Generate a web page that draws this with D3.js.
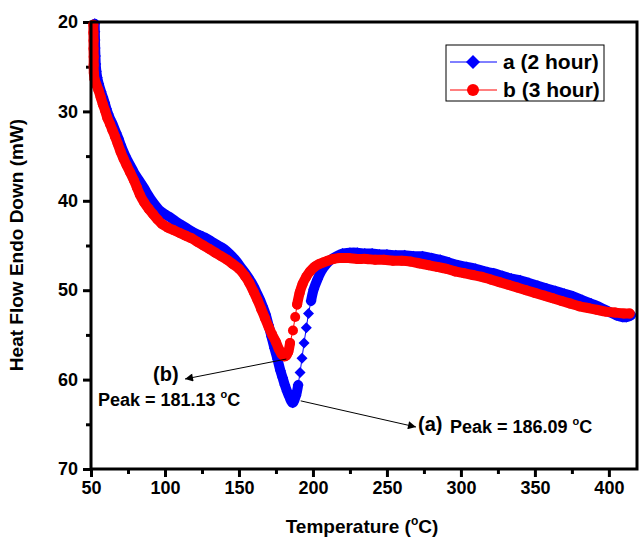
<!DOCTYPE html>
<html>
<head>
<meta charset="utf-8">
<script src="https://cdn.jsdelivr.net/npm/d3@7"></script>
<style>
  body { margin: 0; background: #fff; }
  svg text { font-family: "Liberation Sans", Arial, sans-serif; font-weight: bold; fill: #000; }
</style>
</head>
<body>
<div id="chart"></div>
<script>
// series a (2 hour) - blue diamonds
var aTemp = [52.5, 52.6, 52.7, 52.8, 53.0, 53.2, 53.6, 54.2, 55.2, 56.8, 58, 59.2, 60.4, 61.6, 62.8, 64, 67, 68.5, 70, 73,
  76, 78, 80, 84, 86, 88, 92, 96, 100, 104, 108, 112, 116, 120, 124, 128, 132, 136, 140, 144,
  148, 152, 156, 160, 162, 164, 166, 168, 170, 172, 174, 176, 178, 179.5, 181, 182.5, 184, 185.3, 186.3, 188.5,
  190, 191.3, 192.6, 194, 195.5, 197, 198.7, 200.5, 203, 205.5, 208.5, 212, 216, 220, 225, 230, 235, 240, 245, 250,
  256, 262, 268, 274, 280, 286, 292, 298, 304, 310, 316, 322, 328, 334, 340, 346, 352, 358, 364, 370,
  376, 382, 388, 394, 400, 405, 409, 412, 415];
var aHeat = [20.2, 21.1, 22.0, 22.9, 23.8, 24.7, 25.5, 26.2, 26.9, 27.8, 28.4, 29.0, 29.7, 30.3, 30.8, 31.2, 32.4, 33.0, 33.7, 34.9,
  35.9, 36.5, 37.1, 38.1, 38.6, 39.2, 40.2, 41.0, 41.5, 41.9, 42.4, 42.8, 43.2, 43.6, 43.9, 44.2, 44.6, 45.0, 45.4, 46.0,
  46.7, 47.6, 48.5, 49.6, 50.3, 51.0, 51.8, 52.7, 53.9, 55.2, 56.5, 57.7, 59.0, 59.8, 60.6, 61.3, 61.9, 62.4, 62.6, 61.8,
  60.6, 59.2, 57.6, 55.9, 54.2, 52.6, 51.2, 49.9, 48.8, 47.9, 47.2, 46.6, 46.2, 45.9, 45.8, 45.8, 45.9, 45.9, 46.0, 46.0,
  46.1, 46.1, 46.2, 46.2, 46.4, 46.6, 46.9, 47.2, 47.4, 47.6, 47.9, 48.1, 48.4, 48.7, 48.9, 49.2, 49.5, 49.8, 50.1, 50.4,
  50.7, 51.1, 51.5, 51.9, 52.4, 52.8, 53.0, 53.0, 52.8];

// series b (3 hour) - red circles
var bTemp = [51.6, 51.6, 51.7, 51.7, 51.8, 51.8, 51.9, 52.4, 53.6, 55, 56.5, 58, 59.5, 61, 62.8, 64.5, 66.2, 68, 70, 72,
  74, 76.4, 79, 81, 83, 86, 89, 92, 95, 98, 102, 106, 110, 114, 118, 122, 126, 130, 134, 138, 142,
  146, 150, 154, 157, 160, 162.5, 165, 167.5, 170, 172.5, 175, 177, 179, 180.5, 182, 183.3, 184.5, 186.5, 188, 189.3,
  191, 193, 195.5, 198, 201, 204, 207, 210, 214, 218, 224, 230, 236, 242, 248, 254, 260,
  266, 272, 278, 284, 290, 296, 302, 308, 314, 320, 326, 332, 338, 344, 350, 356, 362, 368, 374, 380,
  386, 392, 398, 404, 410, 414];
var bHeat = [20.3, 21.2, 22.1, 23.0, 23.9, 24.8, 25.7, 26.4, 27.0, 27.6, 28.4, 29.2, 29.9, 30.7, 31.4, 32.1, 32.8, 33.6, 34.5, 35.3,
  36.0, 36.8, 37.7, 38.5, 39.3, 40.2, 40.9, 41.5, 42.1, 42.6, 43.0, 43.3, 43.6, 43.9, 44.2, 44.6, 45.0, 45.4, 45.8, 46.2, 46.6,
  47.1, 47.6, 48.4, 49.2, 50.2, 51.1, 52.1, 53.1, 54.1, 55.0, 55.8, 56.6, 57.2, 57.4, 57.3, 56.9, 55.9, 54.5, 53.0, 51.6,
  50.3, 49.3, 48.5, 47.9, 47.4, 47.1, 46.9, 46.7, 46.5, 46.4, 46.4, 46.5, 46.5, 46.6, 46.6, 46.7, 46.7,
  46.8, 47.0, 47.2, 47.4, 47.6, 47.9, 48.1, 48.3, 48.5, 48.8, 49.1, 49.4, 49.7, 50.0, 50.3, 50.6, 50.9, 51.2, 51.5, 51.8,
  52.0, 52.2, 52.4, 52.5, 52.6, 52.6];

var xTicks = [50, 100, 150, 200, 250, 300, 350, 400];
var xMinor = [75, 125, 175, 225, 275, 325, 375];
var yTicks = [20, 30, 40, 50, 60, 70];
var yMinor = [25, 35, 45, 55, 65];
var seriesNames = ["a (2 hour)", "b (3 hour)"];
var seriesColors = ["#0000ff", "#ff0000"];

var width = 639, height = 538;
var margin = {left: 91, right: 637, top: 22, bottom: 469};

var svg = d3.select("#chart").append("svg")
    .attr("width", width)
    .attr("height", height);

var x = d3.scaleLinear().domain([50, 419]).range([margin.left, margin.right]);
var y = d3.scaleLinear().domain([20, 70]).range([margin.top, margin.bottom]);

var diamond = function(s){
    return "M0," + (-s) + "L" + s + ",0L0," + s + "L" + (-s) + ",0Z";
};

// axes
svg.append("g").attr("transform", "translate(0," + margin.bottom + ")")
    .call(d3.axisBottom(x).tickValues(xTicks).tickSize(8).tickPadding(4));
svg.append("g").attr("transform", "translate(0," + margin.bottom + ")")
    .call(d3.axisBottom(x).tickValues(xMinor).tickSize(5).tickFormat(""));
svg.append("g").attr("transform", "translate(" + margin.left + ",0)")
    .call(d3.axisLeft(y).tickValues(yTicks).tickSize(8).tickPadding(5));
svg.append("g").attr("transform", "translate(" + margin.left + ",0)")
    .call(d3.axisLeft(y).tickValues(yMinor).tickSize(5).tickFormat(""));

svg.selectAll(".domain").remove();
svg.selectAll(".tick line").attr("stroke", "#000").attr("stroke-width", 3);
svg.selectAll(".tick text").style("font-size", "18px").attr("fill", "#000");

// series
var lineGen = d3.line().x(function(d){ return x(d[0]); }).y(function(d){ return y(d[1]); });
var bandGen = d3.line().x(function(d){ return x(d[0]); }).y(function(d){ return y(d[1]); })
    .curve(d3.curveCatmullRom);
var aData = d3.zip(aTemp, aHeat), bData = d3.zip(bTemp, bHeat);

// markers sit so close that they merge into a band; join only neighbours that touch
var touchingRuns = function(data, gap){
    var runs = [], run = [data[0]];
    for (var i = 1; i < data.length; i++) {
        var dx = x(data[i][0]) - x(data[i - 1][0]), dy = y(data[i][1]) - y(data[i - 1][1]);
        if (Math.sqrt(dx * dx + dy * dy) < gap) {
            run.push(data[i]);
        } else {
            if (run.length > 1) runs.push(run);
            run = [data[i]];
        }
    }
    if (run.length > 1) runs.push(run);
    return runs;
};

var drawSeries = function(data, color, isDiamond){
    var g = svg.append("g");
    g.append("path").datum(data).attr("d", lineGen)
        .attr("fill", "none").attr("stroke", color).attr("stroke-width", 1);
    g.selectAll("path.band").data(touchingRuns(data, 12)).enter().append("path")
        .attr("class", "band")
        .attr("d", bandGen)
        .attr("fill", "none").attr("stroke", color)
        .attr("stroke-width", 10)
        .attr("stroke-linecap", "round").attr("stroke-linejoin", "round");
    if (isDiamond) {
        g.selectAll("path.mk").data(data).enter().append("path")
            .attr("class", "mk")
            .attr("transform", function(d){ return "translate(" + x(d[0]) + "," + y(d[1]) + ")"; })
            .attr("d", diamond(5.5))
            .attr("fill", color);
    } else {
        g.selectAll("circle.mk").data(data).enter().append("circle")
            .attr("class", "mk")
            .attr("cx", function(d){ return x(d[0]); })
            .attr("cy", function(d){ return y(d[1]); })
            .attr("r", 5)
            .attr("fill", color);
    }
};

drawSeries(aData, seriesColors[0], true);
drawSeries(bData, seriesColors[1], false);

// frame
svg.append("rect")
    .attr("x", margin.left).attr("y", margin.top)
    .attr("width", margin.right - margin.left).attr("height", margin.bottom - margin.top)
    .attr("fill", "none").attr("stroke", "#000").attr("stroke-width", 3);

// axis titles
var xTitle = svg.append("text")
    .attr("x", (margin.left + margin.right) / 2 - 2).attr("y", 533)
    .attr("text-anchor", "middle")
    .style("font-size", "19px");
xTitle.append("tspan").text("Temperature (");
xTitle.append("tspan").text("o").style("font-size", "12px").attr("dy", -8);
xTitle.append("tspan").text("C)").attr("dy", 8);

svg.append("text")
    .attr("transform", "translate(23," + 245 + ") rotate(-90)")
    .attr("text-anchor", "middle")
    .style("font-size", "19px")
    .text("Heat Flow Endo Down (mW)");

// legend
var legend = svg.append("g");
legend.append("rect")
    .attr("x", 446).attr("y", 45).attr("width", 158).attr("height", 56)
    .attr("fill", "#fff").attr("stroke", "#000").attr("stroke-width", 1);
seriesNames.forEach(function(name, i){
    var ly = 62 + i * 28;
    legend.append("line")
        .attr("x1", 450).attr("x2", 497).attr("y1", ly).attr("y2", ly)
        .attr("stroke", seriesColors[i]).attr("stroke-width", 1);
    if (i === 0) {
        legend.append("path").attr("transform", "translate(473," + ly + ")")
            .attr("d", diamond(7)).attr("fill", seriesColors[i]);
    } else {
        legend.append("circle").attr("cx", 473).attr("cy", ly).attr("r", 6)
            .attr("fill", seriesColors[i]);
    }
    legend.append("text")
        .attr("x", 503).attr("y", ly + 7)
        .style("font-size", "21px")
        .text(name);
});

// annotations
var defs = svg.append("defs");
defs.append("marker")
    .attr("id", "arrow")
    .attr("viewBox", "0 0 10 10")
    .attr("refX", 10).attr("refY", 5)
    .attr("markerWidth", 12).attr("markerHeight", 8)
    .attr("markerUnits", "userSpaceOnUse")
    .attr("orient", "auto")
    .append("path").attr("d", "M0,0L10,5L0,10Z").attr("fill", "#000");

svg.append("line")
    .attr("x1", x(182)).attr("y1", y(57.7))
    .attr("x2", 185).attr("y2", 379)
    .attr("stroke", "#000").attr("stroke-width", 1)
    .attr("marker-end", "url(#arrow)");
svg.append("line")
    .attr("x1", x(186.3) + 8).attr("y1", y(62.6) - 2)
    .attr("x2", 416).attr("y2", 427)
    .attr("stroke", "#000").attr("stroke-width", 1)
    .attr("marker-end", "url(#arrow)");

var peakLabel = function(px, py, value){
    var t = svg.append("text").attr("x", px).attr("y", py).style("font-size", "18px");
    t.append("tspan").text("Peak = " + value + " ");
    t.append("tspan").text("o").style("font-size", "11px").attr("dy", -8);
    t.append("tspan").text("C").attr("dy", 8);
};

svg.append("text").attr("x", 153).attr("y", 381).style("font-size", "20px").text("(b)");
peakLabel(98, 406, "181.13");
svg.append("text").attr("x", 418).attr("y", 431).style("font-size", "20px").text("(a)");
peakLabel(450, 433, "186.09");
</script>
</body>
</html>
